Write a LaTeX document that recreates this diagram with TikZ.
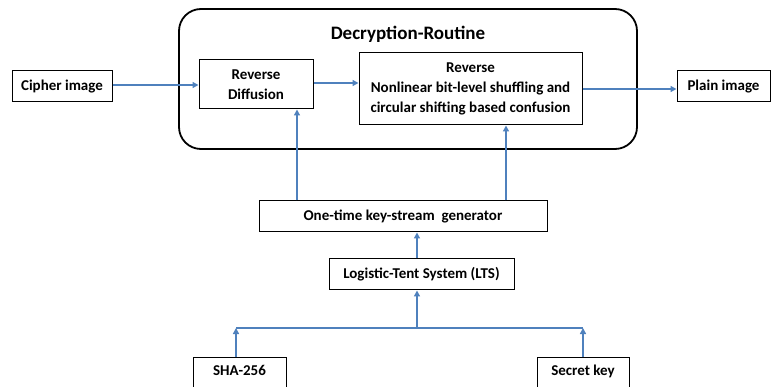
\documentclass[tikz,border=0pt]{standalone}
\usepackage{fontspec}
\setmainfont{Carlito}
\usetikzlibrary{arrows.meta}
\definecolor{arrowblue}{RGB}{79,129,189}
\begin{document}
\begin{tikzpicture}[x=1pt,y=-1pt,
  box/.style={draw=black,line width=1pt,fill=white,inner sep=0pt,font=\fontsize{15}{20}\selectfont\bfseries,align=center},
  conn/.style={draw=arrowblue,line width=1.4pt,-{Triangle[width=6pt,length=6pt]}},
  plainline/.style={draw=arrowblue,line width=1.4pt}]
\clip (0,0) rectangle (771,387);
\fill[white] (0,0) rectangle (771,387);
% outer routine box
\node[draw=black,line width=1.8pt,rounded corners=22pt,minimum width=458pt,minimum height=140pt,inner sep=0pt] (routine) at (408,79) {};
\node[font=\fontsize{19}{22}\selectfont\bfseries] (title) at (408,34) {Decryption-Routine};
% nodes
\node[box,minimum width=100pt,minimum height=31pt] (cipher) at (62,86.5) {Cipher image};
\node[box,minimum width=114pt,minimum height=49pt] (rd) at (256,84.5) {Reverse\\Diffusion};
\node[box,minimum width=223pt,minimum height=72pt] (rev) at (470.5,89) {Reverse\\Nonlinear bit-level shuffling and\\circular shifting based confusion};
\node[box,minimum width=93pt,minimum height=31pt] (plain) at (723.5,86.5) {Plain image};
\node[box,minimum width=288pt,minimum height=31pt] (ks) at (403,216.5) {One-time key-stream\ \ generator};
\node[box,minimum width=185pt,minimum height=31pt] (lts) at (421.5,274.5) {Logistic-Tent System (LTS)};
\node[box,minimum width=93pt,anchor=north,text height=10pt,text depth=40pt,inner ysep=8pt] (sha) at (239.5,357) {SHA-256};
\node[box,minimum width=92pt,anchor=north,text height=10pt,text depth=40pt,inner ysep=8pt] (secret) at (583,357) {Secret key};
% helper coordinates
\coordinate (h1) at (0,85);
\coordinate (h2) at (0,83);
\coordinate (h3) at (0,89);
\coordinate (a1) at (297,0);
\coordinate (a2) at (506,0);
\coordinate (jl) at (236,328);
\coordinate (jm) at (417,328);
\coordinate (jr) at (583,328);
% connectors
\draw[conn] (cipher.east |- h1) -- (rd.west |- h1);
\draw[conn] (rd.east |- h2) -- (rev.west |- h2);
\draw[conn] (rev.east |- h3) -- (plain.west |- h3);
\draw[conn] (ks.north -| a1) -- (rd.south -| a1);
\draw[conn] (ks.north -| a2) -- (rev.south -| a2);
\draw[conn] (lts.north -| jm) -- (ks.south -| jm);
\draw[conn] (jm) -- (lts.south -| jm);
\draw[plainline] (jl) -- (jr);
\draw[conn] (sha.north -| jl) -- (jl);
\draw[conn] (secret.north -| jr) -- (jr);
\end{tikzpicture}
\end{document}
